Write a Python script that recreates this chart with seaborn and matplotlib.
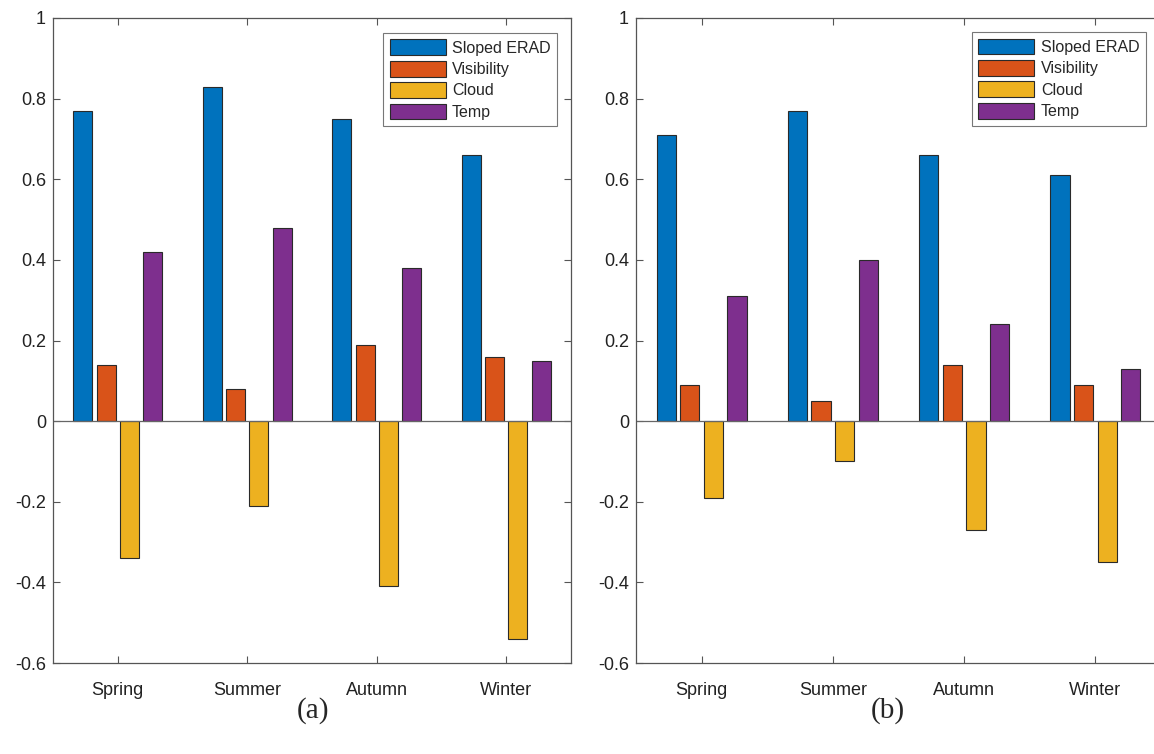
import numpy as np
import pandas as pd
import matplotlib
matplotlib.use("Agg")
import matplotlib.pyplot as plt
import seaborn as sns

seasons = ["Spring", "Summer", "Autumn", "Winter"]
series = ["Sloped ERAD", "Visibility", "Cloud", "Temp"]

# panel (a)
a_sloped = [0.77, 0.83, 0.75, 0.66]
a_visibility = [0.14, 0.08, 0.19, 0.16]
a_cloud = [-0.34, -0.21, -0.41, -0.54]
a_temp = [0.42, 0.48, 0.38, 0.15]

# panel (b)
b_sloped = [0.71, 0.77, 0.66, 0.61]
b_visibility = [0.09, 0.05, 0.14, 0.09]
b_cloud = [-0.19, -0.10, -0.27, -0.35]
b_temp = [0.31, 0.40, 0.24, 0.13]

yticks = [-0.6, -0.4, -0.2, 0, 0.2, 0.4, 0.6, 0.8, 1]
ytick_labels = ["-0.6", "-0.4", "-0.2", "0", "0.2", "0.4", "0.6", "0.8", "1"]
panel_labels = ["(a)", "(b)"]

colors = ["#0072BD", "#D95319", "#EDB120", "#7E2F8E"]

sns.set_theme(style="white")
plt.rcParams["font.family"] = ["Liberation Sans", "DejaVu Sans"]
plt.rcParams["axes.unicode_minus"] = False


def long_df(vals):
    rows = []
    for s, v in zip(series, vals):
        for season, val in zip(seasons, v):
            rows.append({"Season": season, "Series": s, "Value": val})
    return pd.DataFrame(rows)


dfa = long_df([a_sloped, a_visibility, a_cloud, a_temp])
dfb = long_df([b_sloped, b_visibility, b_cloud, b_temp])

fig = plt.figure(figsize=(11.54, 7.54), dpi=100)
W, H = 1154, 754

def px_axes(x0, x1, ytop, ybot):
    return fig.add_axes([x0 / W, (H - ybot) / H, (x1 - x0) / W, (ybot - ytop) / H])

ax_a = px_axes(53, 571, 18, 663)
ax_b = px_axes(636, 1161, 18, 663)

legend_pos = [(0.973, 0.977), (0.971, 0.978)]

for ax, df, lp in zip([ax_a, ax_b], [dfa, dfb], legend_pos):
    sns.barplot(data=df, x="Season", y="Value", hue="Series", order=seasons,
                hue_order=series, palette=colors, saturation=1, width=0.72,
                gap=0.19, edgecolor="#2a2a2a", linewidth=0.8, ax=ax,
                errorbar=None)
    ax.set_xlim(-0.5, 3.5)
    ax.set_ylim(-0.6, 1)
    ax.set_yticks(yticks)
    ax.set_yticklabels(ytick_labels)
    ax.set_xlabel("")
    ax.set_ylabel("")
    ax.axhline(0, color="#666666", lw=0.9, zorder=1)
    for sp in ax.spines.values():
        sp.set_visible(True)
        sp.set_color("#555555")
        sp.set_linewidth(0.9)
    ax.tick_params(axis="both", which="both", direction="in", length=5,
                   width=0.8, color="#555555", top=True, right=True,
                   bottom=True, left=True, labelsize=13, labelcolor="#222222")
    ax.tick_params(axis="x", pad=14)
    ax.tick_params(axis="y", pad=5)
    ax.get_legend().remove()
    handles, labels = ax.get_legend_handles_labels()
    leg = ax.legend(handles, labels, loc="upper right", bbox_to_anchor=lp,
                    borderaxespad=0, fontsize=11.5, frameon=True, fancybox=False,
                    edgecolor="#777777", framealpha=1, handlelength=3.5,
                    handleheight=1.15, handletextpad=0.4, labelspacing=0.32,
                    borderpad=0.4)
    leg.get_frame().set_linewidth(0.8)

fig.text(313 / W, 1 - 711 / H, panel_labels[0], ha="center", va="center",
         fontsize=21, family=["Liberation Serif", "DejaVu Serif"])
fig.text(888 / W, 1 - 711 / H, panel_labels[1], ha="center", va="center",
         fontsize=21, family=["Liberation Serif", "DejaVu Serif"])

fig.savefig("out.png", dpi=100)
